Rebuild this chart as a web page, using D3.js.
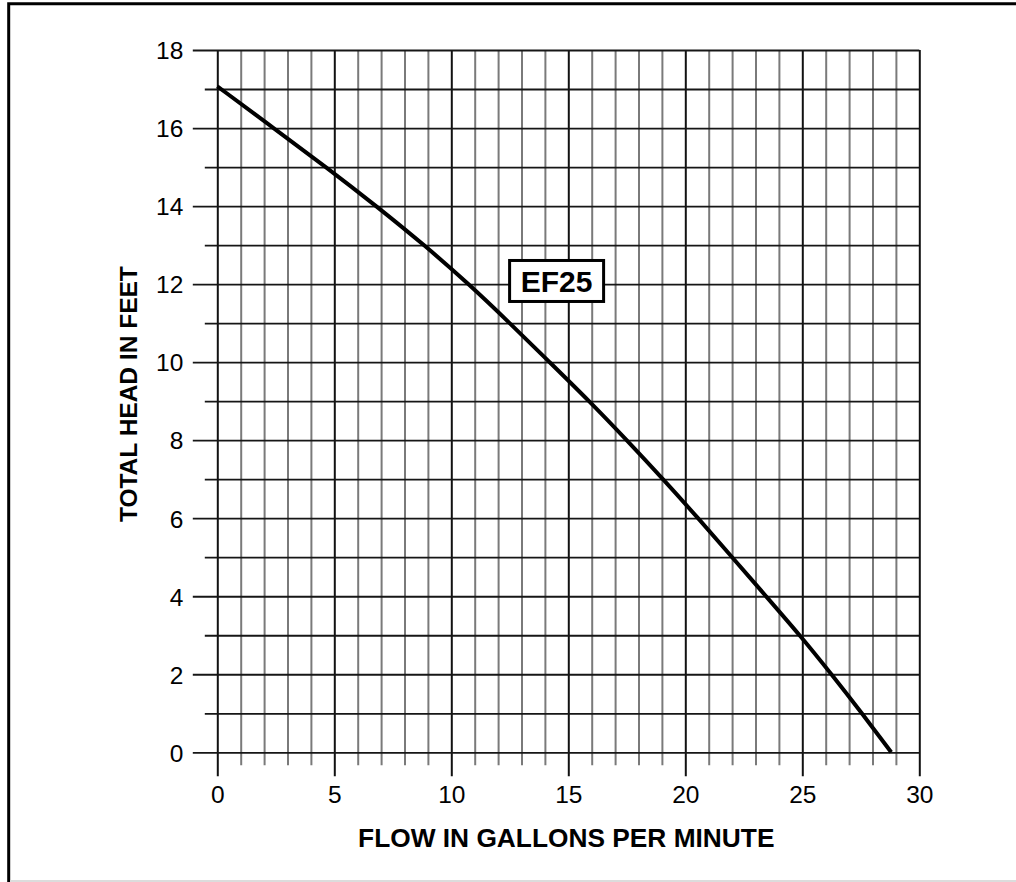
<!DOCTYPE html>
<html>
<head>
<meta charset="utf-8">
<script src="https://cdn.jsdelivr.net/npm/d3@7"></script>
<style>
  html, body { margin: 0; padding: 0; background: #fff; }
  svg { display: block; font-family: "Liberation Sans", Arial, Helvetica, sans-serif; }
</style>
</head>
<body>
<div id="chart"></div>
<script>
// pump curve (flow in gpm, head in ft)
var flow = [0, 2.4, 4.65, 6.8, 8.85, 10.75, 12.5, 14.2, 15.9, 17.5, 19.05, 20.55, 22.0, 23.45, 24.9, 26.25, 27.55, 28.8];
var head = [17.07, 16, 15, 14, 13, 12, 11, 10, 9, 8, 7, 6, 5, 4, 3, 2, 1, 0];

var xTicks = d3.range(0, 31);     // grid every 1 gpm, label every 5
var yTicks = d3.range(0, 19);     // grid every 1 ft, label every 2
var modelLabel = "EF25";
var labelAt = [14.5, 12.08];

var w = 1016;
var h = 882;
// plot box (note: "top" is reserved on window, so use other names)
var pLeft = 217.3, pRight = 919.3, pTop = 50, pBottom = 752.3;

var svg = d3.select("#chart")
            .append("svg")
            .attr("width", w)
            .attr("height", h)
            .style("background-color", "#fff");

// outer frame (left + top black, bottom light edge)
svg.append("path")
   .attr("d", "M8.7," + h + "V3.7H" + w)
   .attr("fill", "none")
   .attr("stroke", "#000")
   .attr("stroke-width", 3);
svg.append("line")
   .attr("x1", 10).attr("x2", w)
   .attr("y1", 881).attr("y2", 881)
   .attr("stroke", "#dcdcdc")
   .attr("stroke-width", 2);

var x = d3.scaleLinear().domain([0, 30]).range([pLeft, pRight]);
var y = d3.scaleLinear().domain([0, 18]).range([pBottom, pTop]);

// vertical grid + x ticks
var xAxis = svg.append("g")
   .attr("transform", `translate(0,${pBottom})`)
   .call(d3.axisBottom(x)
          .tickValues(xTicks)
          .tickFormat(d => d % 5 === 0 ? d : "")
          .tickPadding(0));
xAxis.select(".domain").remove();
xAxis.selectAll(".tick line")
     .attr("y1", d => d % 5 === 0 ? 24 : 13)
     .attr("y2", -(pBottom - pTop))
     .attr("stroke", d => d % 5 === 0 ? "#111" : "#7a7a7a")
     .attr("stroke-width", 2);
xAxis.selectAll(".tick text")
     .attr("y", 51)
     .attr("dy", 0)
     .attr("fill", "#000")
     .style("font-size", "24.5px");

// horizontal grid + y ticks
var yAxis = svg.append("g")
   .attr("transform", `translate(${pLeft},0)`)
   .call(d3.axisLeft(y)
          .tickValues(yTicks)
          .tickFormat(d => d % 2 === 0 ? d : ""));
yAxis.select(".domain").remove();
yAxis.selectAll(".tick line")
     .attr("x1", d => d % 2 === 0 ? -24.5 : -12.5)
     .attr("x2", pRight - pLeft)
     .attr("stroke", "#161616")
     .attr("stroke-width", 1.8);
yAxis.selectAll(".tick text")
     .attr("x", -34)
     .attr("dy", "0.36em")
     .attr("fill", "#000")
     .style("font-size", "24.5px");

// curve
var pts = flow.map((f, i) => [f, head[i]]);
svg.append("path")
   .datum(pts)
   .attr("fill", "none")
   .attr("stroke", "#000")
   .attr("stroke-width", 4)
   .attr("stroke-linecap", "butt")
   .attr("d", d3.line()
                .x(d => x(d[0]))
                .y(d => y(d[1]))
                .curve(d3.curveBasis));

// model label box
var lab = svg.append("g")
   .attr("transform", `translate(${x(labelAt[0])},${y(labelAt[1])})`);
lab.append("rect")
   .attr("x", -47).attr("y", -20.5)
   .attr("width", 94).attr("height", 41)
   .attr("fill", "#fff")
   .attr("stroke", "#000")
   .attr("stroke-width", 3);
lab.append("text")
   .attr("text-anchor", "middle")
   .attr("dy", "0.36em")
   .style("font-size", "30px")
   .style("font-weight", "bold")
   .text(modelLabel);

// axis titles
svg.append("text")
   .attr("x", (pLeft + pRight) / 2 - 2)
   .attr("y", 847)
   .attr("text-anchor", "middle")
   .style("font-size", "26.3px")
   .style("font-weight", "bold")
   .text("FLOW IN GALLONS PER MINUTE");

svg.append("text")
   .attr("transform", `translate(137,${(pTop + pBottom) / 2 - 7}) rotate(-90)`)
   .attr("text-anchor", "middle")
   .style("font-size", "24.5px")
   .style("font-weight", "bold")
   .text("TOTAL HEAD IN FEET");
</script>
</body>
</html>
